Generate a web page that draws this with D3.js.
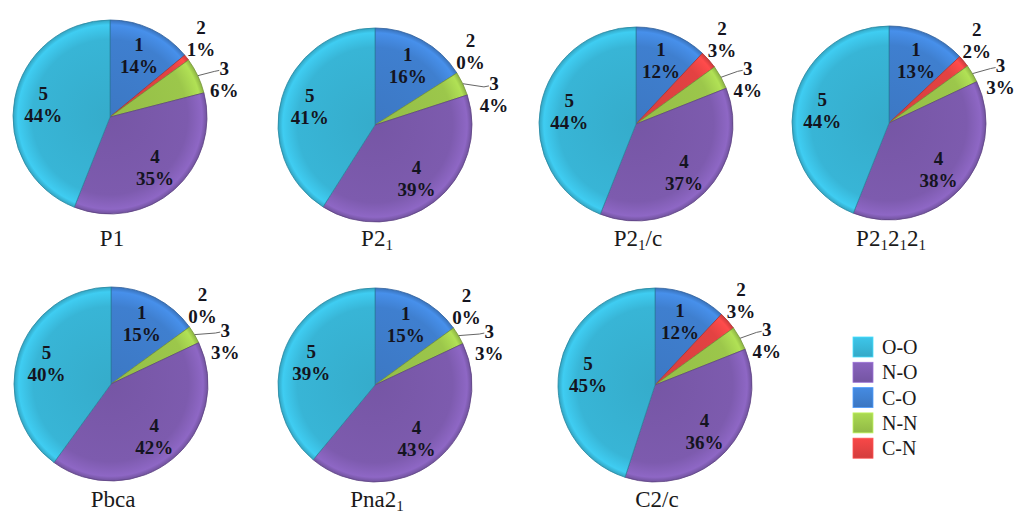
<!DOCTYPE html>
<html>
<head>
<meta charset="utf-8">
<script src="https://cdn.jsdelivr.net/npm/d3@7"></script>
<style>
  html, body { margin: 0; padding: 0; background: #fff; }
  svg { display: block; }
</style>
</head>
<body>
<svg id="chart" width="1019" height="514"></svg>
<script>
// Contact types, in slice order (clockwise from 12 o'clock)
const sliceIds   = ["1", "2", "3", "4", "5"];
const sliceTypes = ["C-O", "C-N", "N-N", "N-O", "O-O"];

// Space groups; "_" marks a subscript digit
const groups = ["P1", "P2_1", "P2_1/c", "P2_12_12_1", "Pbca", "Pna2_1", "C2/c"];

// Percentage of each contact type per space group
const shareP1      = [14, 1, 6, 35, 44];
const shareP21     = [16, 0, 4, 39, 41];
const shareP21c    = [12, 3, 4, 37, 44];
const shareP212121 = [13, 2, 3, 38, 44];
const sharePbca    = [15, 0, 3, 42, 40];
const sharePna21   = [15, 0, 3, 43, 39];
const shareC2c     = [12, 3, 4, 36, 45];
const shares = [shareP1, shareP21, shareP21c, shareP212121, sharePbca, sharePna21, shareC2c];

// Legend order
const legendTypes = ["O-O", "N-O", "C-O", "N-N", "C-N"];

// ---- layout & style ----
const FONT = '"Liberation Serif", "Times New Roman", serif';
const colors = {
  "C-O": "#3f7fcf",
  "C-N": "#e34242",
  "N-N": "#9cc74b",
  "N-O": "#7d5bae",
  "O-O": "#38b5d6"
};
const R = 97;
const centers = [[110, 117], [375, 125], [636, 124], [889, 123],
                 [111, 384], [375, 385], [655, 385]];
const titleBaseline = [246, 246, 246, 246, 507, 507, 507];
const DEG = Math.PI / 180;

const svg = d3.select("#chart");
const defs = svg.append("defs");

// Subtle bevel: base colour, lighter rim, darker edge
Object.entries(colors).forEach(([k, c]) => {
  const base = d3.color(c);
  const g = defs.append("radialGradient")
    .attr("id", "g-" + k)
    .attr("gradientUnits", "userSpaceOnUse")
    .attr("cx", 0).attr("cy", 0).attr("r", R);
  g.append("stop").attr("offset", "0%").attr("stop-color", base.darker(0.15));
  g.append("stop").attr("offset", "80%").attr("stop-color", base);
  g.append("stop").attr("offset", "95%").attr("stop-color", base.brighter(0.35));
  g.append("stop").attr("offset", "100%").attr("stop-color", base.darker(0.3));
  const lg = defs.append("linearGradient")
    .attr("id", "l-" + k)
    .attr("x1", 0).attr("y1", 0).attr("x2", 0).attr("y2", 1);
  lg.append("stop").attr("offset", "0%").attr("stop-color", base.brighter(0.25));
  lg.append("stop").attr("offset", "100%").attr("stop-color", base.darker(0.2));
});

const pie = d3.pie().sort(null).value(d => d.value);
const arc = d3.arc().innerRadius(0).outerRadius(R);

function addTitle(sel, text) {
  const parts = text.split(/_(\d)/);
  parts.forEach((p, i) => {
    if (p === "") return;
    if (i % 2 === 1) {
      sel.append("tspan").attr("font-size", 15).attr("dy", 4).text(p);
    } else {
      const t = sel.append("tspan").text(p);
      if (i > 0) t.attr("dy", -4);
    }
  });
}

// Two-line data label ("id" over "value%") centred on (x, y)
function placeLabel(lab, x, y) {
  lab.text.attr("x", x).attr("y", y);
  lab.l1.attr("x", x).attr("y", y - 4.5);
  lab.l2.attr("x", x).attr("y", y + 17.5);
  lab.x = x; lab.y = y;
}
function lineBoxes(lab) {
  return [
    { x0: lab.x - lab.w1 / 2, x1: lab.x + lab.w1 / 2, y0: lab.y - 20, y1: lab.y - 3 },
    { x0: lab.x - lab.w2 / 2, x1: lab.x + lab.w2 / 2, y0: lab.y + 2, y1: lab.y + 19 }
  ];
}
function collide(a, b) {
  const pad = 3;
  return lineBoxes(a).some(p => lineBoxes(b).some(q =>
    p.x0 < q.x1 + pad && q.x0 < p.x1 + pad && p.y0 < q.y1 + pad && q.y0 < p.y1 + pad));
}

groups.forEach((name, gi) => {
  const [cx, cy] = centers[gi];
  const data = shares[gi].map((v, i) => ({ id: sliceIds[i], type: sliceTypes[i], value: v }));
  const arcs = pie(data);
  const g = svg.append("g").attr("transform", `translate(${cx},${cy})`);

  g.selectAll("path.slice")
    .data(arcs.filter(a => a.data.value > 0))
    .join("path")
    .attr("class", "slice")
    .attr("d", arc)
    .attr("fill", d => `url(#g-${d.data.type})`)
    .attr("stroke", d => d3.color(colors[d.data.type]).darker(0.8))
    .attr("stroke-width", 0.8)
    .attr("stroke-linejoin", "round");

  const leader = g.append("path")
    .attr("fill", "none")
    .attr("stroke", "#666")
    .attr("stroke-width", 1);

  const labels = arcs.map((a, i) => {
    const mid = (a.startAngle + a.endAngle) / 2;
    const text = g.append("text")
      .attr("text-anchor", "middle")
      .style("font-family", FONT)
      .style("font-weight", "bold")
      .style("font-size", "19px")
      .attr("fill", "#141420");
    const l1 = text.append("tspan").text(a.data.id);
    const l2 = text.append("tspan").text(a.data.value + "%");
    const lab = { text, l1, l2, mid, i,
      w1: l1.node().getComputedTextLength(),
      w2: l2.node().getComputedTextLength() };
    if (i === 1) { lab.ang = mid - 3 * DEG; lab.r = 1.24 * R; }
    else if (i === 2) { lab.ang = mid + 7 * DEG; lab.r = 1.24 * R; }
    else { lab.ang = mid; lab.r = 0.7 * R; }
    placeLabel(lab, lab.r * Math.sin(lab.ang), -lab.r * Math.cos(lab.ang));
    return lab;
  });

  // spread the two outside labels until they no longer overlap
  const [la, lb] = [labels[1], labels[2]];
  for (let k = 0; k < 40 && collide(la, lb); k++) {
    la.ang -= 0.5 * DEG;
    lb.ang += 1 * DEG;
    lb.r += 0.6;
    placeLabel(la, la.r * Math.sin(la.ang), -la.r * Math.cos(la.ang));
    placeLabel(lb, lb.r * Math.sin(lb.ang), -lb.r * Math.cos(lb.ang));
  }

  // leader line from the slice edge to the outside label of slice 3
  const ex = R * Math.sin(lb.mid), ey = -R * Math.cos(lb.mid);
  leader.attr("d", `M${ex},${ey} L${lb.x - 10},${lb.y - 8} L${lb.x - 5},${lb.y - 9}`);

  const title = svg.append("text")
    .attr("x", cx + 2).attr("y", titleBaseline[gi])
    .attr("text-anchor", "middle")
    .style("font-family", FONT)
    .style("font-size", "23px")
    .attr("fill", "#1a1a1a");
  addTitle(title, name);
});

// Legend
const legend = svg.append("g").attr("transform", "translate(853,337)");
const items = legend.selectAll("g")
  .data(legendTypes)
  .join("g")
  .attr("transform", (d, i) => `translate(0,${i * 25.3})`);
items.append("rect")
  .attr("width", 20).attr("height", 20)
  .attr("fill", d => `url(#l-${d})`)
  .attr("stroke", d => d3.color(colors[d]).brighter(0.6))
  .attr("stroke-width", 0.8);
items.append("text")
  .attr("x", 29).attr("y", 17)
  .style("font-family", FONT)
  .style("font-size", "20px")
  .attr("fill", "#1a1a1a")
  .text(d => d);
</script>
</body>
</html>
